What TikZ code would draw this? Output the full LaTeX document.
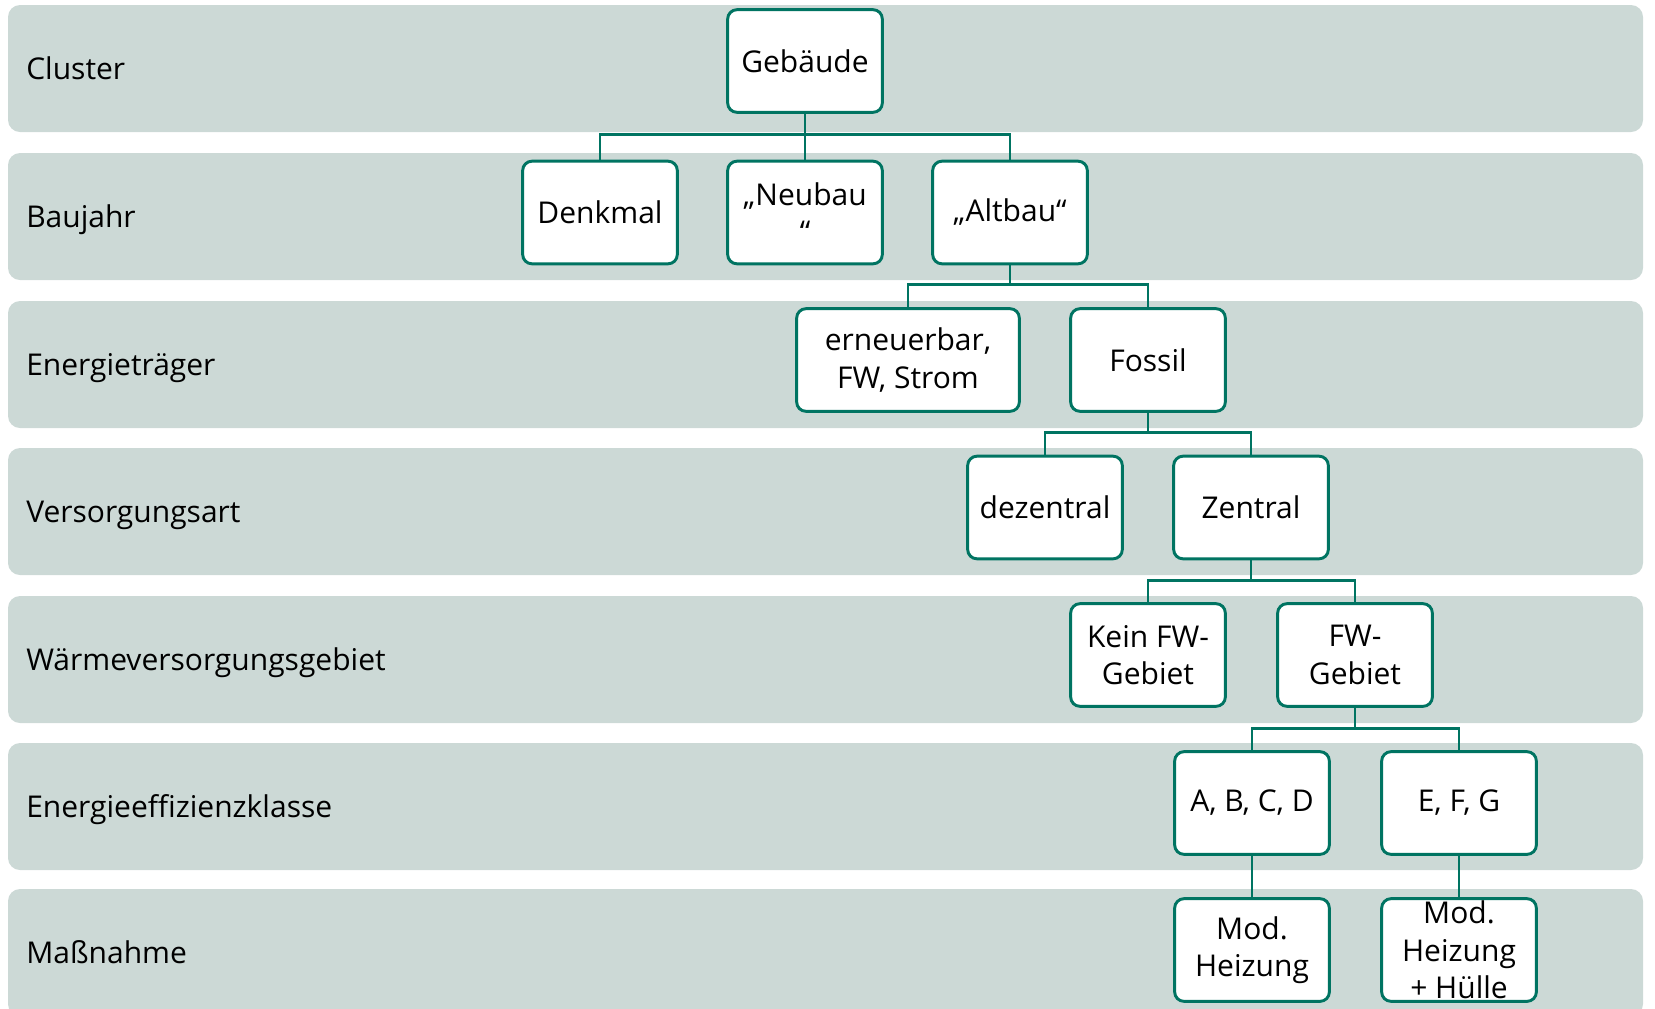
\documentclass[tikz,border=0pt]{standalone}
\usepackage{fontspec}
\setmainfont{Open Sans}
\newcommand\dfs{\fontsize{22.5}{28}\selectfont}
\definecolor{bandc}{RGB}{204,217,214}
\definecolor{tealc}{RGB}{0,116,98}
\begin{document}
\begin{tikzpicture}[x=0.75pt,y=-0.75pt,
  band/.style={fill=bandc, rounded corners=9pt},
  lbl/.style={anchor=base west, font=\dfs, text=black, inner sep=0pt},
  box/.style={draw=tealc, fill=white, line width=2.2pt, rounded corners=7pt,
    minimum width=116pt, minimum height=77pt, inner sep=0pt, align=center, font=\dfs},
  txt/.style={inner sep=0pt, align=center, font=\dfs},
  conn/.style={draw=tealc, line width=2pt}]
\useasboundingbox (0,0) rectangle (1655,1008);
\clip (0,0) rectangle (1655,1008);
% bands
\foreach \t in {5,153,301,448,596,743,889}
  \fill[band] (8,\t) rectangle (1643,\t+127);
% row labels
\node[lbl] (l1) at (26,79.2) {Cluster};
\node[lbl] (l2) at (26,227.2) {Baujahr};
\node[lbl] (l3) at (26,375.2) {Energieträger};
\node[lbl] (l4) at (26,522.2) {Versorgungsart};
\node[lbl] (l5) at (26,670.2) {Wärmeversorgungsgebiet};
\node[lbl] (l6) at (26,817.2) {Energieeffizienzklasse};
\node[lbl] (l7) at (26,963.2) {Maßnahme};
% boxes
\node[box] (geb) at (805,61) {Gebäude};
\node[box] (den) at (600,212.5) {Denkmal};
\node[box] (neu) at (805,212.5) {„Neubau\\“};
\node[box] (alt) at (1010,212.5) {„Altbau“};
\node[box, minimum width=167pt] (ern) at (908,360) {erneuerbar,\\FW, Strom};
\node[box] (fos) at (1148,360) {Fossil};
\node[box] (dez) at (1045,507.5) {dezentral};
\node[box] (zen) at (1251,507.5) {Zentral};
\node[box] (kfw) at (1148,655) {Kein FW-\\Gebiet};
\node[box] (fwg) at (1355,655) {FW-\\Gebiet};
\node[box] (abc) at (1252,803) {A, B, C, D};
\node[box] (efg) at (1459,803) {E, F, G};
\node[box] (mh) at (1252,950) {Mod.\\Heizung};
\node[box] (mhh) at (1459,950) {};
\node[txt] (mhht) at (mhh.center) {Mod.\\Heizung\\+ Hülle};
% connectors
\draw[conn] (geb.south) -- ++(0,21) -| (den.north);
\draw[conn] (geb.south) -- ++(0,21) -| (alt.north);
\draw[conn] (geb.south) -- (neu.north);
\draw[conn] (alt.south) -- ++(0,19) -| (ern.north);
\draw[conn] (alt.south) -- ++(0,19) -| (fos.north);
\draw[conn] (fos.south) -- ++(0,20) -| (dez.north);
\draw[conn] (fos.south) -- ++(0,20) -| (zen.north);
\draw[conn] (zen.south) -- ++(0,20) -| (kfw.north);
\draw[conn] (zen.south) -- ++(0,20) -| (fwg.north);
\draw[conn] (fwg.south) -- ++(0,21) -| (abc.north);
\draw[conn] (fwg.south) -- ++(0,21) -| (efg.north);
\draw[conn] (abc.south) -- (mh.north);
\draw[conn] (efg.south) -- (mhh.north);
\end{tikzpicture}
\end{document}
